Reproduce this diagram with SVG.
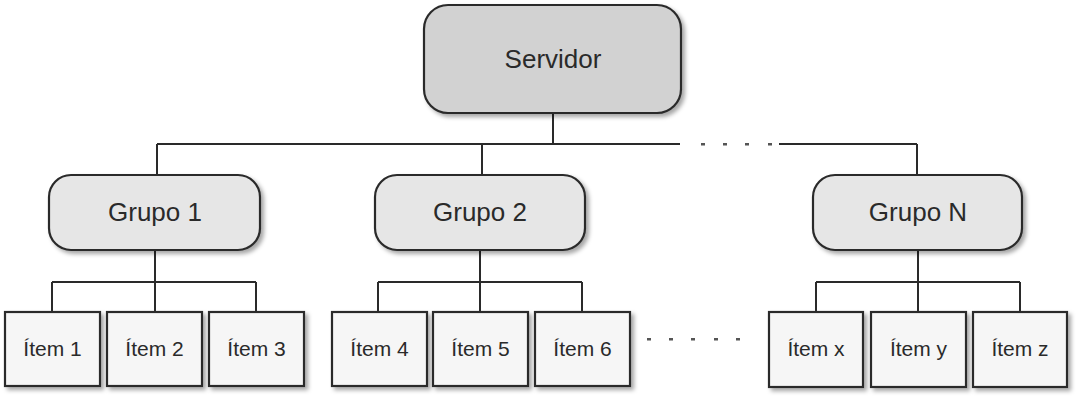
<svg xmlns="http://www.w3.org/2000/svg" width="1089" height="402" viewBox="0 0 1089 402">
<defs>
<style>
.box{stroke:#2a2a2a;stroke-width:2.2;filter:url(#sh)}
.srv{fill:#d2d2d2}
.grp{fill:#e6e6e6}
.itm{fill:#f6f6f6}
.t{font-family:"Liberation Sans",Arial,sans-serif;fill:#2a2a2a;text-anchor:middle}
.tl{font-size:26px}
.ti{font-size:21px}
.ln{stroke:#2a2a2a;stroke-width:2;fill:none}
.dot{fill:#555}
</style>
<filter id="sh" x="-10%" y="-10%" width="130%" height="140%">
<feDropShadow dx="3" dy="3" stdDeviation="2" flood-color="#000" flood-opacity="0.35"/>
</filter>
</defs>
<rect width="1089" height="402" fill="#fff"/>
<g id="connectors">
<path class="ln" d="M553 113V144M157 144H680M779 144H917M157 144V175M482 144V175M917 144V175"/>
<path class="ln" d="M155 250V282M52 282H256M52 282V312M155 282V312M256 282V312"/>
<path class="ln" d="M480 250V282M378 282H582M378 282V312M480 282V312M582 282V312"/>
<path class="ln" d="M918 250V282M816 282H1020M816 282V312M918 282V312M1020 282V312"/>
<g class="dot">
<rect x="701" y="143" width="4" height="2.5"/><rect x="723" y="143" width="4" height="2.5"/><rect x="745" y="143" width="4" height="2.5"/><rect x="768" y="143" width="4" height="2.5"/>
<rect x="647" y="338" width="4" height="2.5"/><rect x="669" y="338" width="4" height="2.5"/><rect x="691" y="338" width="4" height="2.5"/><rect x="714" y="338" width="4" height="2.5"/><rect x="736" y="338" width="4" height="2.5"/>
</g>
</g>
<g id="servidor"><rect class="box srv" x="424" y="5" width="257" height="108" rx="24"/><text class="t tl" x="553" y="68">Servidor</text></g>
<g id="grupo1"><rect class="box grp" x="49" y="175" width="211" height="75" rx="22"/><text class="t tl" x="155" y="221">Grupo 1</text></g>
<g id="grupo2"><rect class="box grp" x="375" y="175" width="210" height="75" rx="22"/><text class="t tl" x="480" y="221">Grupo 2</text></g>
<g id="grupoN"><rect class="box grp" x="813" y="175" width="209" height="75" rx="22"/><text class="t tl" x="918" y="221">Grupo N</text></g>
<g id="item1"><rect class="box itm" x="5" y="312" width="95" height="74"/><text class="t ti" x="52.500" y="356">Ítem 1</text></g>
<g id="item2"><rect class="box itm" x="107" y="312" width="95" height="74"/><text class="t ti" x="154.500" y="356">Ítem 2</text></g>
<g id="item3"><rect class="box itm" x="209" y="312" width="95" height="74"/><text class="t ti" x="256.500" y="356">Ítem 3</text></g>
<g id="item4"><rect class="box itm" x="332" y="312" width="95" height="74"/><text class="t ti" x="379.500" y="356">Ítem 4</text></g>
<g id="item5"><rect class="box itm" x="433" y="312" width="95" height="74"/><text class="t ti" x="480.500" y="356">Ítem 5</text></g>
<g id="item6"><rect class="box itm" x="535" y="312" width="95" height="74"/><text class="t ti" x="582.500" y="356">Ítem 6</text></g>
<g id="itemx"><rect class="box itm" x="769" y="312" width="94" height="75"/><text class="t ti" x="816" y="356">Ítem x</text></g>
<g id="itemy"><rect class="box itm" x="871" y="312" width="95" height="75"/><text class="t ti" x="918.500" y="356">Ítem y</text></g>
<g id="itemz"><rect class="box itm" x="973" y="312" width="94" height="75"/><text class="t ti" x="1020" y="356">Ítem z</text></g>
</svg>
